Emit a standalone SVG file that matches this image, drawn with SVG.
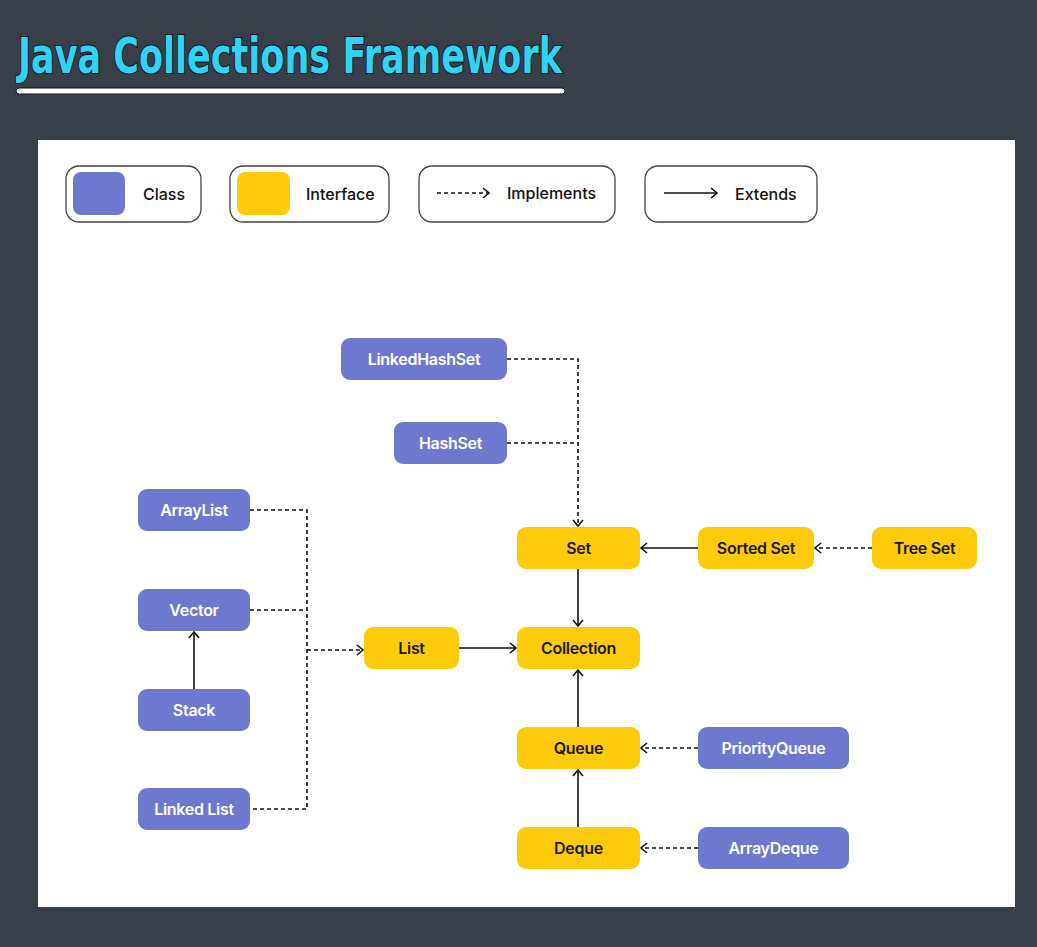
<svg xmlns="http://www.w3.org/2000/svg" width="1037" height="947" viewBox="0 0 1037 947">
<defs>
<style>
.cls rect{fill:#6f78cf}
.cls text{fill:#ffffff}
.itf rect{fill:#fdcb0c}
.itf text{fill:#1a1a1a}
.node text{font-family:Inter,"Noto Sans","Liberation Sans",sans-serif;font-weight:600;font-size:16px;text-anchor:middle;dominant-baseline:central;letter-spacing:-0.3px}
.leg{fill:#ffffff;stroke:#444;stroke-width:1.3}
.legt{font-family:Inter,"Noto Sans","Liberation Sans",sans-serif;font-weight:500;font-size:16px;fill:#111;dominant-baseline:central}
.ext{fill:none;stroke:#111;stroke-width:1.6}
.imp{fill:none;stroke:#111;stroke-width:1.6;stroke-dasharray:4 3}
</style>
<marker id="ah" markerWidth="10" markerHeight="12" refX="8" refY="6" orient="auto" markerUnits="userSpaceOnUse">
<path d="M2,1 L8,6 L2,11" fill="none" stroke="#111" stroke-width="1.6"/>
</marker>
</defs>
<rect x="0" y="0" width="1037" height="947" fill="#393f48"/>
<text x="18" y="73" font-family="'DejaVu Sans Condensed','DejaVu Sans',sans-serif" font-stretch="condensed" font-weight="bold" font-size="50" fill="#30d3f3" stroke="#0d1014" stroke-width="2" paint-order="stroke" textLength="544" lengthAdjust="spacingAndGlyphs">Java Collections Framework</text>
<rect x="16" y="88" width="549" height="6" rx="3" fill="#ffffff" stroke="#111" stroke-width="1"/>
<rect x="38" y="140" width="977" height="767" fill="#ffffff"/>
<g id="legend">
<rect class="leg" x="66" y="166" width="135" height="56" rx="13"/>
<rect x="73" y="172" width="52" height="43" rx="8" fill="#6f78cf"/>
<text class="legt" x="143" y="194">Class</text>
<rect class="leg" x="230" y="166" width="159" height="56" rx="13"/>
<rect x="237" y="172" width="53" height="43" rx="8" fill="#fdcb0c"/>
<text class="legt" x="306" y="194">Interface</text>
<rect class="leg" x="419" y="166" width="196" height="56" rx="13"/>
<line class="imp" x1="437" y1="193" x2="489" y2="193" stroke-dasharray="3 2.5" marker-end="url(#ah)"/>
<text class="legt" x="507" y="193">Implements</text>
<rect class="leg" x="645" y="166" width="172" height="56" rx="13"/>
<line class="ext" x1="664" y1="193" x2="717" y2="193" marker-end="url(#ah)"/>
<text class="legt" x="735" y="194">Extends</text>
</g>
<g id="connectors">
<polyline class="imp" points="507,359 578,359 578,526" marker-end="url(#ah)"/>
<line class="imp" x1="507" y1="443" x2="578" y2="443"/>
<polyline class="imp" points="250,510 307,510 307,809 250,809"/>
<line class="imp" x1="250" y1="610" x2="307" y2="610"/>
<line class="imp" x1="307" y1="650" x2="363" y2="650" marker-end="url(#ah)"/>
<line class="ext" x1="194" y1="689" x2="194" y2="632" marker-end="url(#ah)"/>
<line class="ext" x1="459" y1="648" x2="516" y2="648" marker-end="url(#ah)"/>
<line class="ext" x1="578" y1="569" x2="578" y2="626" marker-end="url(#ah)"/>
<line class="ext" x1="698" y1="548" x2="641" y2="548" marker-end="url(#ah)"/>
<line class="imp" x1="872" y1="548" x2="815" y2="548" marker-end="url(#ah)"/>
<line class="ext" x1="578" y1="727" x2="578" y2="670" marker-end="url(#ah)"/>
<line class="ext" x1="578" y1="827" x2="578" y2="770" marker-end="url(#ah)"/>
<line class="imp" x1="698" y1="748" x2="641" y2="748" marker-end="url(#ah)"/>
<line class="imp" x1="698" y1="848" x2="641" y2="848" marker-end="url(#ah)"/>
</g>
<g id="LinkedHashSet" class="node cls"><rect x="341" y="338" width="166" height="42" rx="9"/><text x="424" y="359">LinkedHashSet</text></g>
<g id="HashSet" class="node cls"><rect x="394" y="422" width="113" height="42" rx="9"/><text x="450.5" y="443">HashSet</text></g>
<g id="ArrayList" class="node cls"><rect x="138" y="489" width="112" height="42" rx="9"/><text x="194" y="510">ArrayList</text></g>
<g id="Vector" class="node cls"><rect x="138" y="589" width="112" height="42" rx="9"/><text x="194" y="610">Vector</text></g>
<g id="Stack" class="node cls"><rect x="138" y="689" width="112" height="42" rx="9"/><text x="194" y="710">Stack</text></g>
<g id="LinkedList" class="node cls"><rect x="138" y="788" width="112" height="42" rx="9"/><text x="194" y="809">Linked List</text></g>
<g id="List" class="node itf"><rect x="364" y="627" width="95" height="42" rx="9"/><text x="411.5" y="648">List</text></g>
<g id="Set" class="node itf"><rect x="517" y="527" width="123" height="42" rx="9"/><text x="578.5" y="548">Set</text></g>
<g id="Collection" class="node itf"><rect x="517" y="627" width="123" height="42" rx="9"/><text x="578.5" y="648">Collection</text></g>
<g id="SortedSet" class="node itf"><rect x="698" y="527" width="116" height="42" rx="9"/><text x="756" y="548">Sorted Set</text></g>
<g id="TreeSet" class="node itf"><rect x="872" y="527" width="105" height="42" rx="9"/><text x="924.5" y="548">Tree Set</text></g>
<g id="Queue" class="node itf"><rect x="517" y="727" width="123" height="42" rx="9"/><text x="578.5" y="748">Queue</text></g>
<g id="PriorityQueue" class="node cls"><rect x="698" y="727" width="151" height="42" rx="9"/><text x="773.5" y="748">PriorityQueue</text></g>
<g id="Deque" class="node itf"><rect x="517" y="827" width="123" height="42" rx="9"/><text x="578.5" y="848">Deque</text></g>
<g id="ArrayDeque" class="node cls"><rect x="698" y="827" width="151" height="42" rx="9"/><text x="773.5" y="848">ArrayDeque</text></g>
</svg>
